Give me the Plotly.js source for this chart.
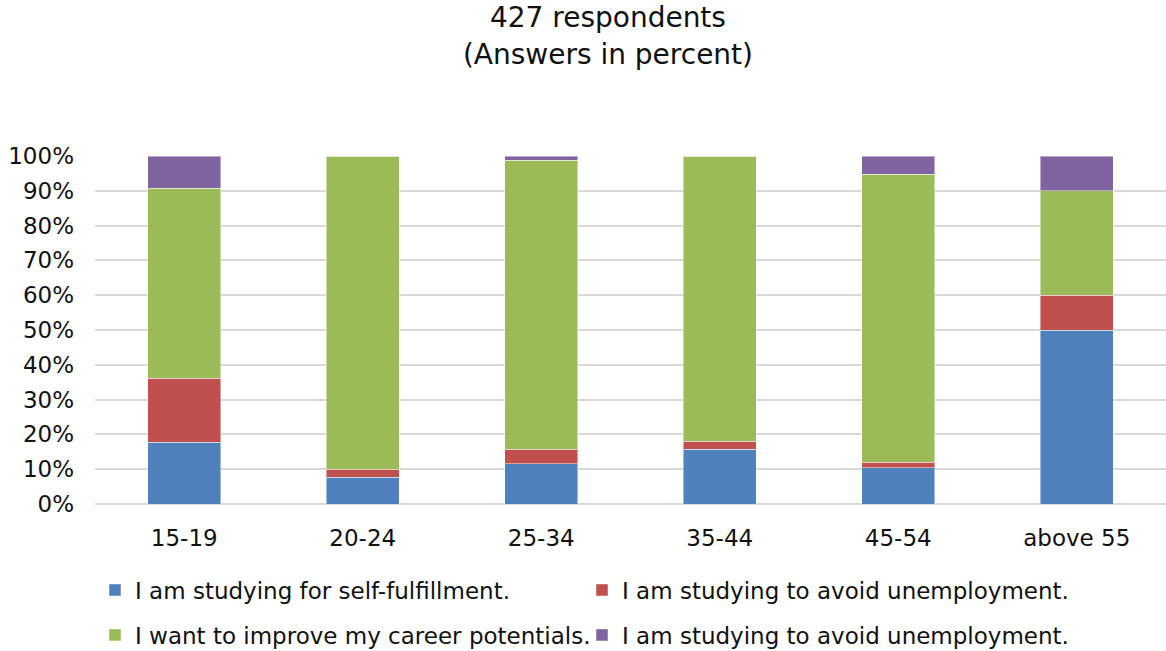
<!DOCTYPE html>
<html>
<head>
<meta charset="utf-8">
<script src="https://cdn.plot.ly/plotly-3.0.1.min.js"></script>
<style>html,body{margin:0;padding:0;background:#fff;}#chart{width:1166px;height:651px;}</style>
</head>
<body>
<div id="chart"></div>
<script>
const categories = ["15-19", "20-24", "25-34", "35-44", "45-54", "above 55"];
const seriesNames = [
  "I am studying for self-fulfillment.",
  "I am studying to avoid unemployment.",
  "I want to improve my career potentials.",
  "I am studying to avoid unemployment."
];
const selfFulfillment = [17.8, 7.7, 11.6, 15.8, 10.4, 50];
const avoidUnemployment = [18.3, 2.3, 4.2, 2.2, 1.6, 10];
const careerPotentials = [54.7, 90.0, 83.0, 82.0, 82.7, 30];
const avoidUnemployment2 = [9.2, 0, 1.2, 0, 5.3, 10];
const yTickVals = [0, 10, 20, 30, 40, 50, 60, 70, 80, 90, 100];
const yTickText = ["0%", "10%", "20%", "30%", "40%", "50%", "60%", "70%", "80%", "90%", "100%"];

const colors = ["#4F81BD", "#C0504D", "#9BBB59", "#8064A2"];
const values = [selfFulfillment, avoidUnemployment, careerPotentials, avoidUnemployment2];
const legends = ["legend", "legend", "legend2", "legend2"];

const FONT = "DejaVu Sans, Arial, sans-serif";
const traces = values.map((v, i) => ({
  type: "bar",
  x: categories,
  y: v,
  name: seriesNames[i],
  legend: legends[i],
  marker: {color: colors[i], line: {color: "rgba(255,255,255,0.45)", width: 1}},
  hoverinfo: "x+y+name"
}));

const legendCommon = {
  orientation: "h",
  xref: "paper", x: 0, xanchor: "left",
  yref: "container", yanchor: "middle",
  entrywidth: 442, entrywidthmode: "pixels",
  font: {family: FONT, size: 23, color: "#111"},
  bgcolor: "rgba(0,0,0,0)",
  traceorder: "normal"
};

const layout = {
  width: 1166, height: 651,
  barmode: "stack",
  bargap: 0.59,
  paper_bgcolor: "#fff", plot_bgcolor: "#fff",
  margin: {l: 95, r: 0, t: 156, b: 147, autoexpand: false},
  font: {family: FONT, size: 23, color: "#111"},
  title: {
    text: "427 respondents<br>(Answers in percent)",
    font: {family: FONT, size: 28, color: "#111"},
    xref: "container", x: 0.5214, xanchor: "center",
    yref: "container", y: 0.958, yanchor: "top"
  },
  xaxis: {
    type: "category",
    showgrid: false, showline: false, zeroline: false,
    ticks: "", ticklabelstandoff: 18,
    tickfont: {family: FONT, size: 23, color: "#111"}
  },
  yaxis: {
    range: [0, 100],
    tickvals: yTickVals, ticktext: yTickText,
    showgrid: true, gridcolor: "#D9D9D9", gridwidth: 1.5,
    zeroline: true, zerolinecolor: "#D9D9D9", zerolinewidth: 1.5,
    showline: false, ticks: "", ticklabelstandoff: 20,
    tickfont: {family: FONT, size: 23, color: "#111"}
  },
  legend: Object.assign({}, legendCommon, {y: 0.0937}),
  legend2: Object.assign({}, legendCommon, {y: 0.0246}),
  showlegend: true
};

Plotly.newPlot("chart", traces, layout, {displayModeBar: false, responsive: false});
</script>
</body>
</html>
